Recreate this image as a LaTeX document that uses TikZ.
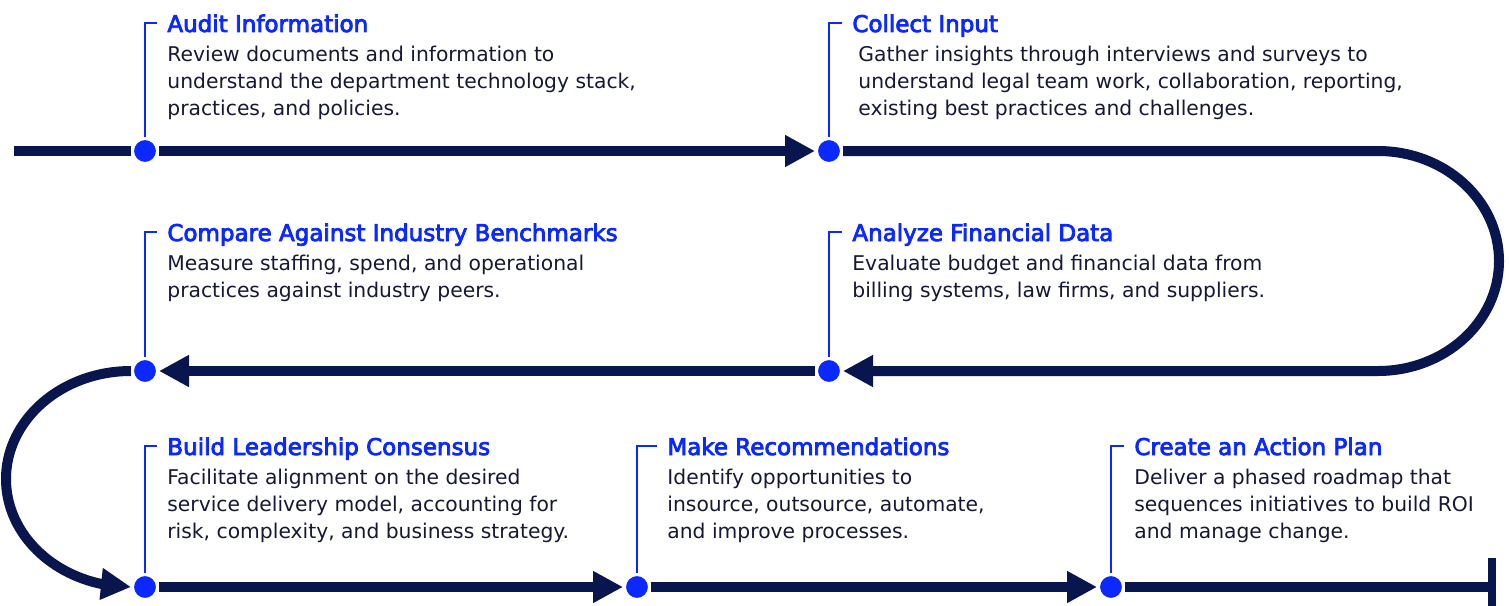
\documentclass[tikz,border=0pt]{standalone}
\usepackage{fontspec}
\setmainfont{DejaVu Sans}
\newfontfamily\headfont[FakeBold=3.5]{DejaVu Sans}
\usetikzlibrary{arrows.meta,bending,positioning,backgrounds}
\definecolor{navy}{RGB}{8,22,77}
\definecolor{vivid}{RGB}{10,40,255}
\definecolor{ink}{RGB}{22,24,52}
\tikzset{
	track/.style={draw=navy, line width=5pt},
	tip/.style={-{Triangle[length=15pt,width=15pt,flex]}},
	dot/.style={circle, fill=vivid, draw=white, line width=1.5pt, minimum size=12.5pt, inner sep=0pt},
	flag/.style={draw=vivid, line width=0.8pt},
	head/.style={anchor=west, inner xsep=5pt, inner ysep=0pt, text height=9pt, text depth=0pt, text=vivid, font=\headfont\fontsize{11.5}{13}\selectfont},
	blurb/.style={inner sep=0pt, align=left, text=ink, font=\fontsize{10.15}{13.5}\selectfont},
}

\begin{document}
\begin{tikzpicture}[x=0.5pt,y=-0.5pt]
				\useasboundingbox (0,0) rectangle (1509,605);
				\node[dot] (d1) at (145,151) {};
				\node[dot] (d2) at (829,151) {};
				\node[dot] (d3) at (829,371) {};
				\node[dot] (d4) at (145,371) {};
				\node[dot] (d5) at (145,587) {};
				\node[dot] (d6) at (637,587) {};
				\node[dot] (d7) at (1111,587) {};
				\coordinate (s) at (14,151);
				\coordinate (r1) at (1378,151);
				\coordinate (e) at (1496,587);
				\begin{pgfonlayer}{background}
				\draw[track] (s) -- (d1);
				\draw[track,tip] (d1) -- (d2);
				\draw[track,tip] (d2) -- (r1) arc[start angle=90,end angle=-90,x radius=60.5pt,y radius=55pt] -- (d3);
				\draw[track,tip] (d3) -- (d4);
				\draw[track,tip] (d4.west) arc[start angle=90,end angle=270,x radius=62.5pt,y radius=54pt];
				\draw[track,tip] (d5) -- (d6);
				\draw[track,tip] (d6) -- (d7);
				\draw[track,-{Bar[width=29pt,line width=4pt]}] (d7) -- (e);
				\end{pgfonlayer}
				\node[head] (t1) at (157,23) {Audit Information};
				\node[head] (t2) at (842,23) {Collect Input};
				\node[head] (t3) at (842,232) {Analyze Financial Data};
				\node[head] (t4) at (157,232) {Compare Against Industry Benchmarks};
				\node[head] (t5) at (157,446) {Build Leadership Consensus};
				\node[head] (t6) at (657,446) {Make Recommendations};
				\node[head] (t7) at (1124,446) {Create an Action Plan};
				\node[blurb, below right=6.5pt and 5pt of t1.south west] (b1) {Review documents and information to\\understand the department technology stack,\\practices, and policies.};
				\node[blurb, below right=6.5pt and 8pt of t2.south west] (b2) {Gather insights through interviews and surveys to\\understand legal team work, collaboration, reporting,\\existing best practices and challenges.};
				\node[blurb, below right=6.5pt and 5pt of t3.south west] (b3) {Evaluate budget and financial data from\\billing systems, law firms, and suppliers.};
				\node[blurb, below right=6.5pt and 5pt of t4.south west] (b4) {Measure staffing, spend, and operational\\practices against industry peers.};
				\node[blurb, below right=6.5pt and 5pt of t5.south west] (b5) {Facilitate alignment on the desired\\service delivery model, accounting for\\risk, complexity, and business strategy.};
				\node[blurb, below right=6.5pt and 5pt of t6.south west] (b6) {Identify opportunities to\\insource, outsource, automate,\\and improve processes.};
				\node[blurb, below right=6.5pt and 5pt of t7.south west] (b7) {Deliver a phased roadmap that\\sequences initiatives to build ROI\\and manage change.};
				\draw[flag] (d1.north) |- (t1.west);
				\draw[flag] (d2.north) |- (t2.west);
				\draw[flag] (d3.north) |- (t3.west);
				\draw[flag] (d4.north) |- (t4.west);
				\draw[flag] (d5.north) |- (t5.west);
				\draw[flag] (d6.north) |- (t6.west);
				\draw[flag] (d7.north) |- (t7.west);
			\end{tikzpicture}
\end{document}
